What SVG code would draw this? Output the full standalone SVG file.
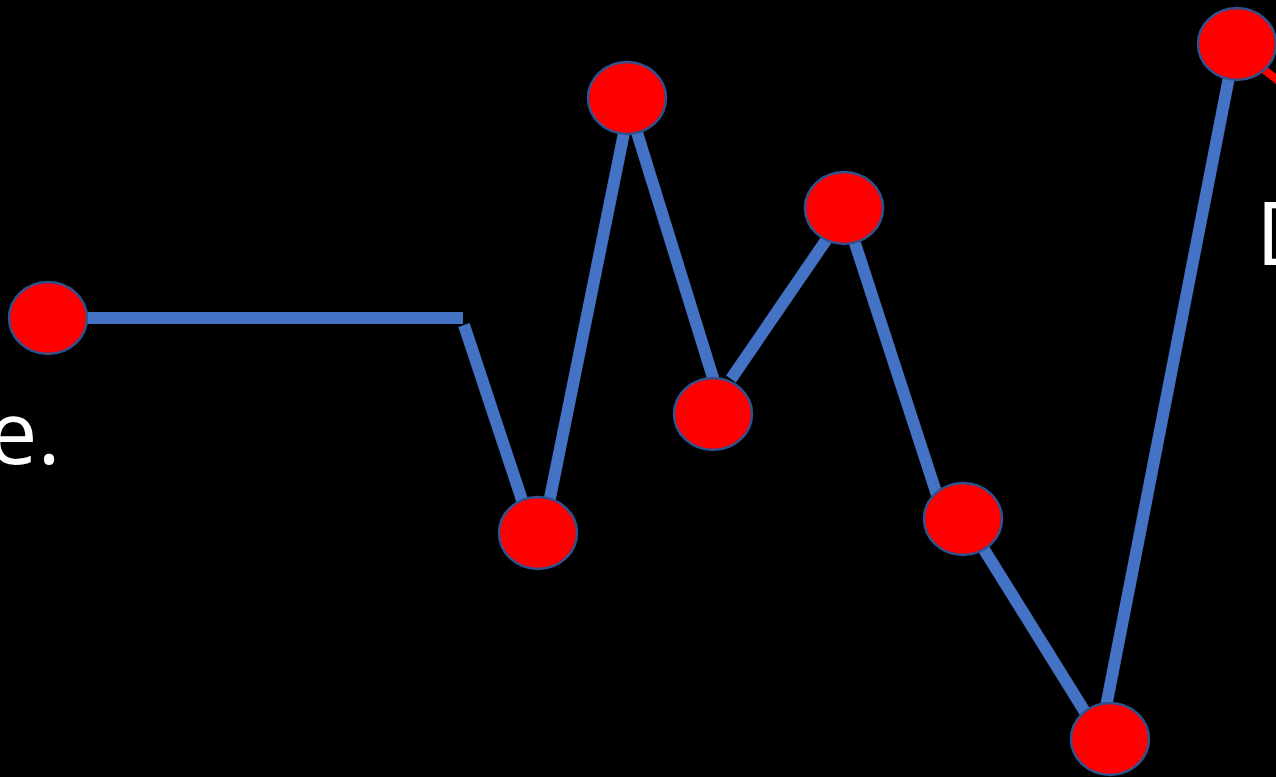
<svg xmlns="http://www.w3.org/2000/svg" width="1276" height="777" viewBox="0 0 1276 777">
<style>
.seg{stroke:#4472C4;stroke-width:12;fill:none;stroke-linecap:butt}
.node{fill:#FF0000;stroke:#2F528F;stroke-width:2.5}
.txt{font-family:"Open Sans","Liberation Sans",sans-serif;font-size:88px;fill:#FFFFFF}
</style>
<rect width="1276" height="777" fill="#000000"/>
<text class="txt" x="-12" y="464">e.</text>
<text class="txt" x="1256" y="265">D</text>
<g id="connectors">
<line class="seg" x1="80" y1="318" x2="463" y2="318"/>
<line class="seg" x1="464" y1="325" x2="523" y2="503"/>
<line class="seg" x1="549" y1="503" x2="625" y2="128"/>
<line class="seg" x1="635" y1="126" x2="714" y2="381"/>
<line class="seg" x1="731" y1="379" x2="833" y2="230"/>
<line class="seg" x1="852" y1="234" x2="937" y2="495"/>
<line class="seg" x1="980" y1="543" x2="1090" y2="720"/>
<line class="seg" x1="1105" y1="712" x2="1230" y2="72"/>
<line x1="1262" y1="68" x2="1280" y2="82" stroke="#FF0000" stroke-width="8"/>
</g>
<g id="n1"><ellipse class="node" cx="48" cy="318" rx="39" ry="36"/></g>
<g id="n2"><ellipse class="node" cx="538" cy="533" rx="39" ry="36"/></g>
<g id="n3"><ellipse class="node" cx="627" cy="98" rx="39" ry="36"/></g>
<g id="n4"><ellipse class="node" cx="713" cy="414" rx="39" ry="36"/></g>
<g id="n5"><ellipse class="node" cx="844" cy="208" rx="39" ry="36"/></g>
<g id="n6"><ellipse class="node" cx="963" cy="519" rx="39" ry="36"/></g>
<g id="n7"><ellipse class="node" cx="1110" cy="739" rx="39" ry="36"/></g>
<g id="n8"><ellipse class="node" cx="1237" cy="44" rx="39" ry="36"/></g>
</svg>
